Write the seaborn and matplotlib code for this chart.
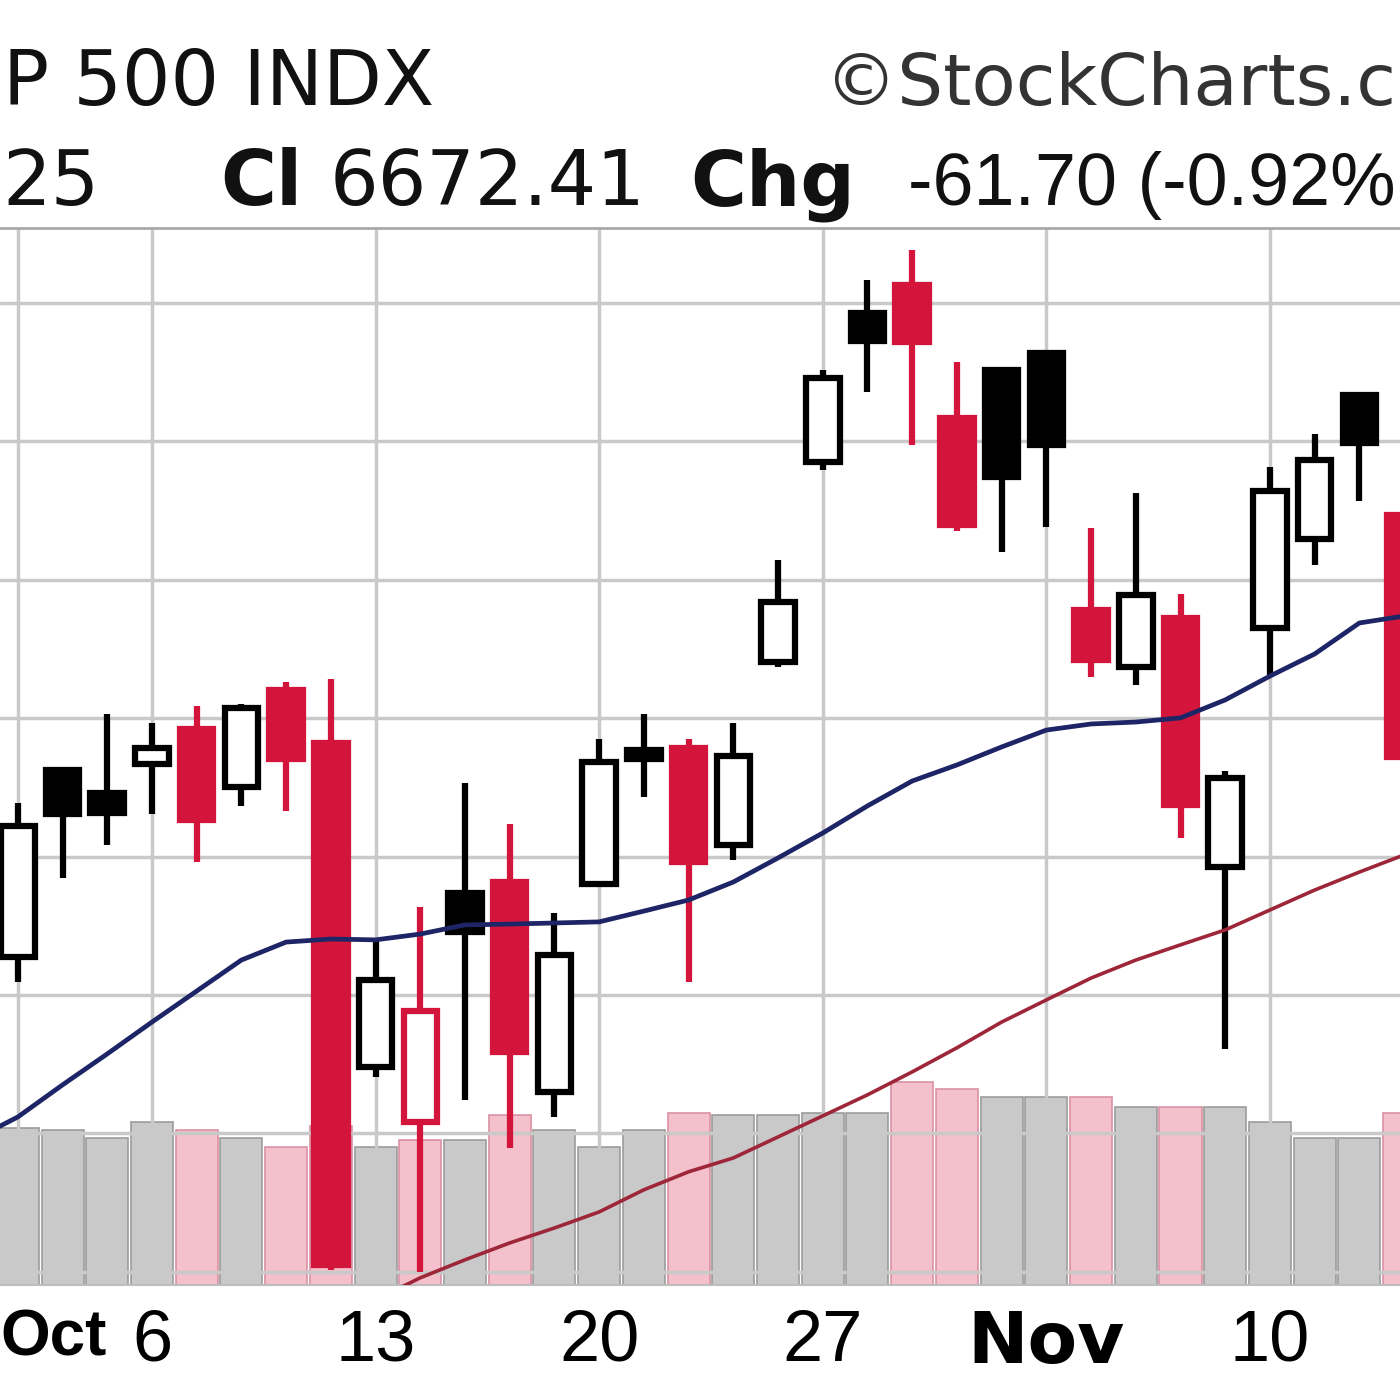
import matplotlib
matplotlib.use("Agg")
import numpy as np
import pandas as pd
import seaborn as sns
from matplotlib import pyplot as plt
from matplotlib.transforms import ScaledTranslation

# Trading days on the chart (Sep 30 sits just off the left edge, Nov 13 is cut at the right)
dates = ["Sep 30", "Oct 1", "Oct 2", "Oct 3", "Oct 6", "Oct 7", "Oct 8", "Oct 9", "Oct 10",
         "Oct 13", "Oct 14", "Oct 15", "Oct 16", "Oct 17", "Oct 20", "Oct 21", "Oct 22",
         "Oct 23", "Oct 24", "Oct 27", "Oct 28", "Oct 29", "Oct 30", "Oct 31", "Nov 3",
         "Nov 4", "Nov 5", "Nov 6", "Nov 7", "Nov 10", "Nov 11", "Nov 12", "Nov 13"]

open_prices = [6661.0, 6663.7, 6731.3, 6723.0, 6733.5, 6746.1, 6725.1, 6760.0, 6741.0,
               6624.0, 6604.0, 6686.8, 6690.8, 6615.0, 6690.1, 6738.5, 6739.2,
               6704.2, 6770.3, 6842.6, 6896.4, 6906.5, 6858.5, 6875.8, 6881.9,
               6789.1, 6768.5, 6786.2, 6696.2, 6782.6, 6814.7, 6866.8, 6823.4]
high_prices = [6689.0, 6719.4, 6732.0, 6751.5, 6748.3, 6754.4, 6755.1, 6763.0, 6764.0,
               6669.9, 6681.8, 6726.6, 6711.8, 6679.6, 6742.5, 6751.5, 6742.5,
               6748.3, 6807.2, 6875.8, 6908.3, 6919.1, 6878.7, 6876.5, 6882.5,
               6818.7, 6831.4, 6794.9, 6731.0, 6840.8, 6852.7, 6867.5, 6826.0]
low_prices = [6641.0, 6654.7, 6692.3, 6704.2, 6715.4, 6698.1, 6718.3, 6716.5, 6550.8,
              6620.4, 6550.0, 6612.1, 6594.7, 6605.9, 6689.0, 6721.5, 6654.7,
              6698.8, 6768.5, 6839.7, 6867.8, 6848.7, 6817.5, 6810.0, 6819.1,
              6764.9, 6762.0, 6706.7, 6630.5, 6765.6, 6805.3, 6828.5, 6728.0]
close_prices = [6688.5, 6711.1, 6715.4, 6715.8, 6739.2, 6713.2, 6753.7, 6735.1, 6552.5,
                6655.4, 6644.2, 6672.8, 6629.4, 6664.5, 6734.2, 6735.4, 6698.0,
                6736.3, 6792.0, 6872.9, 6886.2, 6886.0, 6819.8, 6837.1, 6848.7,
                6771.0, 6794.5, 6718.6, 6728.4, 6832.1, 6843.3, 6849.4, 6736.0]

# Volume in billions of shares
volume_billions = [2.90, 2.98, 2.94, 2.79, 3.09, 2.94, 2.79, 2.62, 3.00,
                   2.62, 2.75, 2.75, 3.22, 2.94, 2.62, 2.94, 3.26,
                   3.22, 3.22, 3.26, 3.26, 3.85, 3.70, 3.56, 3.56,
                   3.55, 3.37, 3.37, 3.37, 3.09, 2.79, 2.79, 3.26]

# Moving average overlays (short = blue, long = red; long one enters from below on Oct 13)
ma_short = [6597.6, 6605.9, 6617.5, 6628.7, 6640.2, 6651.4, 6662.6, 6669.1, 6670.2,
            6669.9, 6672.0, 6675.3, 6675.6, 6676.0, 6676.4, 6680.3, 6684.3,
            6690.8, 6699.5, 6708.5, 6718.3, 6727.3, 6733.1, 6739.6, 6745.7,
            6747.9, 6748.6, 6750.1, 6756.6, 6765.2, 6773.2, 6784.4, 6786.9]
ma_long = [np.nan, np.nan, np.nan, np.nan, np.nan, np.nan, np.nan, np.nan, np.nan,
           6539.8, 6547.8, 6554.3, 6560.4, 6565.8, 6571.6, 6579.6, 6586.1,
           6591.1, 6598.7, 6606.3, 6613.9, 6622.2, 6630.9, 6640.2, 6648.2,
           6656.1, 6662.6, 6668.1, 6673.5, 6680.7, 6687.9, 6694.4, 6700.6]

# Grid / tick labels
tick_dates = ["Oct 1", "Oct 6", "Oct 13", "Oct 20", "Oct 27", "Nov 3", "Nov 10"]
tick_labels = ["Oct", "6", "13", "20", "27", "Nov", "10"]
month_labels = ["Oct", "Nov"]
price_grid = [6550, 6600, 6650, 6700, 6750, 6800, 6850, 6900]

RED = "#d3153c"
BLACK = "#000000"


def candle_colors(opens, closes, prev_close):
    """Returns outline colours and body fills in the StockCharts style.
    Red when the close is below the previous close, hollow when close > open.
    """
    outline, fill = [], []
    prev = prev_close
    for o, c in zip(opens, closes):
        col = RED if c < prev else BLACK
        outline.append(col)
        fill.append("white" if c > o else col)
        prev = c
    return outline, fill


def create_candlestick_chart():
    """Draws the cropped S&P 500 daily candlestick chart with volume and moving averages."""

    sns.set_theme(style="white")
    plt.rcParams["font.family"] = ["DejaVu Sans"]

    fig = plt.figure(figsize=(14, 14), dpi=100)
    ax = fig.add_axes([0, 1 - 1285 / 1400, 1, (1285 - 228) / 1400])
    ax_vol = ax.twinx()
    ax.set_zorder(ax_vol.get_zorder() + 1)  # price on top of volume
    ax.patch.set_visible(False)

    x = np.arange(len(dates))
    outline, fill = candle_colors(open_prices[1:], close_prices[1:], close_prices[0])
    outline = [BLACK] + outline
    fill = ["white"] + fill

    # Volume bars behind the price
    vol_colors = ["#f3c0cb" if c == RED else "#c9c9c9" for c in outline]
    vol_edges = ["#d991a3" if c == RED else "#9c9c9c" for c in outline]
    ax_vol.bar(x, volume_billions, width=0.94, color=vol_colors,
               edgecolor=vol_edges, linewidth=1.2)
    ax_vol.set_ylim(0, 20)
    ax_vol.set_yticks([])
    for side in ax_vol.spines:
        ax_vol.spines[side].set_visible(False)

    # Candles: wick then body
    ax.vlines(x, low_prices, high_prices, colors=outline, linewidth=4.5, zorder=3)
    bottoms = np.minimum(open_prices, close_prices)
    heights = np.abs(np.array(close_prices) - np.array(open_prices))
    ax.bar(x, heights, bottom=bottoms, width=0.75, color=fill,
           edgecolor=outline, linewidth=4.5, zorder=4)

    # Moving averages
    df = pd.DataFrame({"x": x, "ma_short": ma_short, "ma_long": ma_long})
    sns.lineplot(data=df.dropna(subset=["ma_short"]), x="x", y="ma_short", ax=ax,
                 color="#1e2566", linewidth=3.4, zorder=5)
    sns.lineplot(data=df.dropna(subset=["ma_long"]), x="x", y="ma_long", ax=ax,
                 color="#9e2639", linewidth=2.6, zorder=5)

    ax.set_xlim(0.602, 31.908)
    ax.set_ylim(6545.2, 6927.1)
    ax.set_xlabel("")
    ax.set_ylabel("")

    # Grid lines at the price levels and at week / month starts
    ax.set_yticks(price_grid)
    ax.set_yticklabels([])
    tick_pos = [dates.index(d) for d in tick_dates]
    ax.set_xticks(tick_pos)
    ax.set_xticklabels(tick_labels)
    ax.tick_params(axis="both", length=0)
    ax.tick_params(axis="x", pad=17)
    ax.grid(True, color="#c9c9c9", linewidth=2.5)
    ax.set_axisbelow(True)
    for lab in ax.get_xticklabels():
        lab.set_fontsize(52)
        lab.set_color("black")
        if lab.get_text() == "Oct":
            # first month label sits against the left edge so it stays on the canvas
            lab.set_fontsize(46)
            lab.set_fontfamily("Liberation Sans")
            lab.set_fontweight("bold")
            lab.set_horizontalalignment("left")
            lab.set_transform(lab.get_transform() + ScaledTranslation(-0.17, 0, fig.dpi_scale_trans))
        elif lab.get_text() in month_labels:
            lab.set_fontfamily("DejaVu Sans")
            lab.set_fontweight("bold")
        else:
            lab.set_fontfamily("Liberation Sans")

    for side in ["left", "right"]:
        ax.spines[side].set_visible(False)
    ax.spines["top"].set_color("#a9a9a9")
    ax.spines["top"].set_linewidth(2)
    ax.spines["bottom"].set_color("#bdbdbd")
    ax.spines["bottom"].set_linewidth(1.5)

    # Header lines (cropped StockCharts title block)
    fig.text(0.002, 1 - 105 / 1400, "P 500 INDX", fontsize=55, color="#111111",
             va="baseline", ha="left")
    fig.text(0.997, 1 - 105 / 1400, "\u00a9StockCharts.c", fontsize=52, color="#333333",
             va="baseline", ha="right")
    y2 = 1 - 205 / 1400
    fig.text(0.002, y2, "25", fontsize=55, color="#111111", va="baseline", ha="left")
    fig.text(220 / 1400, y2, "Cl", fontsize=55, fontweight="bold", color="#111111", va="baseline")
    fig.text(330 / 1400, y2, "6672.41", fontsize=55, color="#111111", va="baseline")
    fig.text(690 / 1400, y2, "Chg", fontsize=55, fontweight="bold", color="#111111", va="baseline")
    fig.text(0.997, y2, "-61.70 (-0.92%", fontsize=53, family="Liberation Sans",
             color="#111111", va="baseline", ha="right")

    fig.savefig("out.png", dpi=100)
    plt.close(fig)


if __name__ == "__main__":
    create_candlestick_chart()
